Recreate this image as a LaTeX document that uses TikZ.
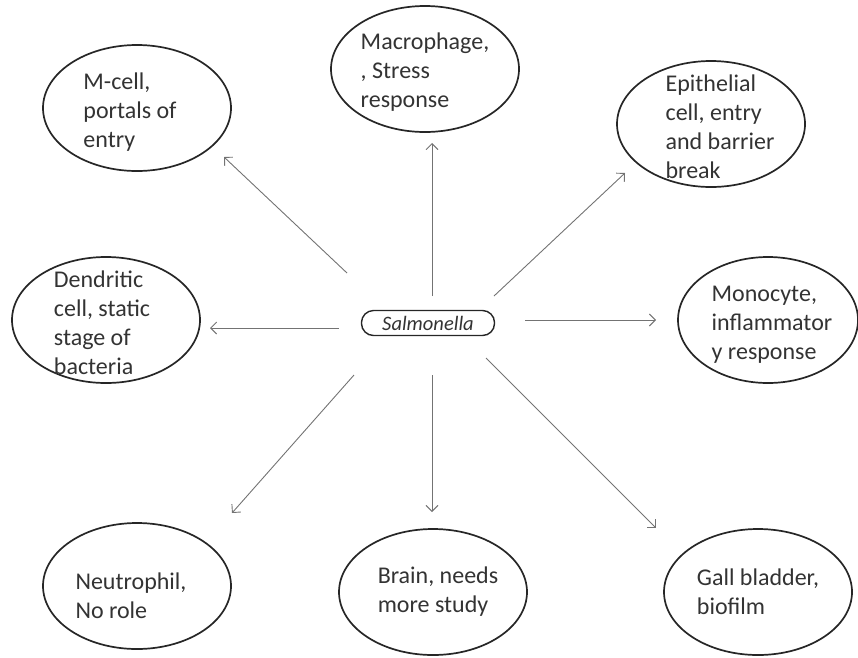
\documentclass[tikz,border=0pt]{standalone}
\usepackage{fontspec}
\setmainfont{Carlito}
\usetikzlibrary{arrows.meta}
\usetikzlibrary{shapes.geometric}
\tikzstyle{cell}=[draw=black!85, line width=1.7pt, ellipse, minimum width=188pt, minimum height=126pt, inner sep=0pt]
\tikzstyle{txt}=[align=left, inner sep=0pt, text=black!80, font=\fontsize{24}{29}\selectfont]
\tikzstyle{bact}=[draw=black!85, line width=1.4pt, rounded corners=12pt, minimum width=133pt, minimum height=25pt, inner sep=0pt, text=black!80, font=\fontsize{20.5}{24}\selectfont\itshape]
\tikzstyle{arr}=[->, draw=black!55, line width=0.9pt]

\begin{document}
\begin{tikzpicture}[x=1pt,y=-1pt,>={Straight Barb[length=6pt,width=12pt]}]
    \useasboundingbox (0,0) rectangle (858,657);
    % centre
    \node [bact] (sal) at (428,323) {Salmonella};
    % ellipses round it
    \node [cell] (mcell) at (137,108) {};
    \node [cell] (macro) at (425,69) {};
    \node [cell] (epi) at (711,124) {};
    \node [cell, minimum width=180pt] (mono) at (768,320) {};
    \node [cell] (dendr) at (106,320) {};
    \node [cell] (neutro) at (137,586) {};
    \node [cell] (brain) at (433,592) {};
    \node [cell] (gall) at (758,592) {};
    % texts
    \node [txt] (mcell-t) at ([xshift=-7pt,yshift=-4pt]mcell) {M-cell,\\portals of\\entry};
    \node [txt] (macro-t) at ([yshift=-3pt]macro) {Macrophage,\\, Stress\\response};
    \node [txt] (epi-t) at ([xshift=9pt,yshift=-3pt]epi) {Epithelial\\cell, entry\\and barrier\\break};
    \node [txt] (mono-t) at ([xshift=4pt,yshift=-5pt]mono) {Monocyte,\\inflammator\\y response};
    \node [txt] (dendr-t) at ([xshift=-4pt,yshift=-3pt]dendr) {Dendritic\\cell, static\\stage of\\bacteria};
    \node [txt] (neutro-t) at ([xshift=-6pt,yshift=-10pt]neutro) {Neutrophil,\\No role};
    \node [txt] (brain-t) at ([xshift=5pt]brain) {Brain, needs\\more study};
    \node [txt] (gall-t) at (gall) {Gall bladder,\\biofilm};
    % arrow ends
    \coordinate (mcell-s) at (347,273);  \coordinate (mcell-e) at (224,157);
    \coordinate (macro-s) at (432,296);  \coordinate (macro-e) at (432,143);
    \coordinate (epi-s) at (494,296);    \coordinate (epi-e) at (625,173);
    \coordinate (mono-s) at (525,320);   \coordinate (mono-e) at (656,320);
    \coordinate (dendr-s) at (339,328);  \coordinate (dendr-e) at (210,328);
    \coordinate (neutro-s) at (354,375); \coordinate (neutro-e) at (232,513);
    \coordinate (brain-s) at (432,375);  \coordinate (brain-e) at (432,512);
    \coordinate (gall-s) at (486,358);   \coordinate (gall-e) at (656,528);
    \draw [arr] (mcell-s) -- (mcell-e);
    \draw [arr] (macro-s) -- (macro-e);
    \draw [arr] (epi-s) -- (epi-e);
    \draw [arr] (mono-s) -- (mono-e);
    \draw [arr] (dendr-s) -- (dendr-e);
    \draw [arr] (neutro-s) -- (neutro-e);
    \draw [arr] (brain-s) -- (brain-e);
    \draw [arr] (gall-s) -- (gall-e);
\end{tikzpicture}
\end{document}
